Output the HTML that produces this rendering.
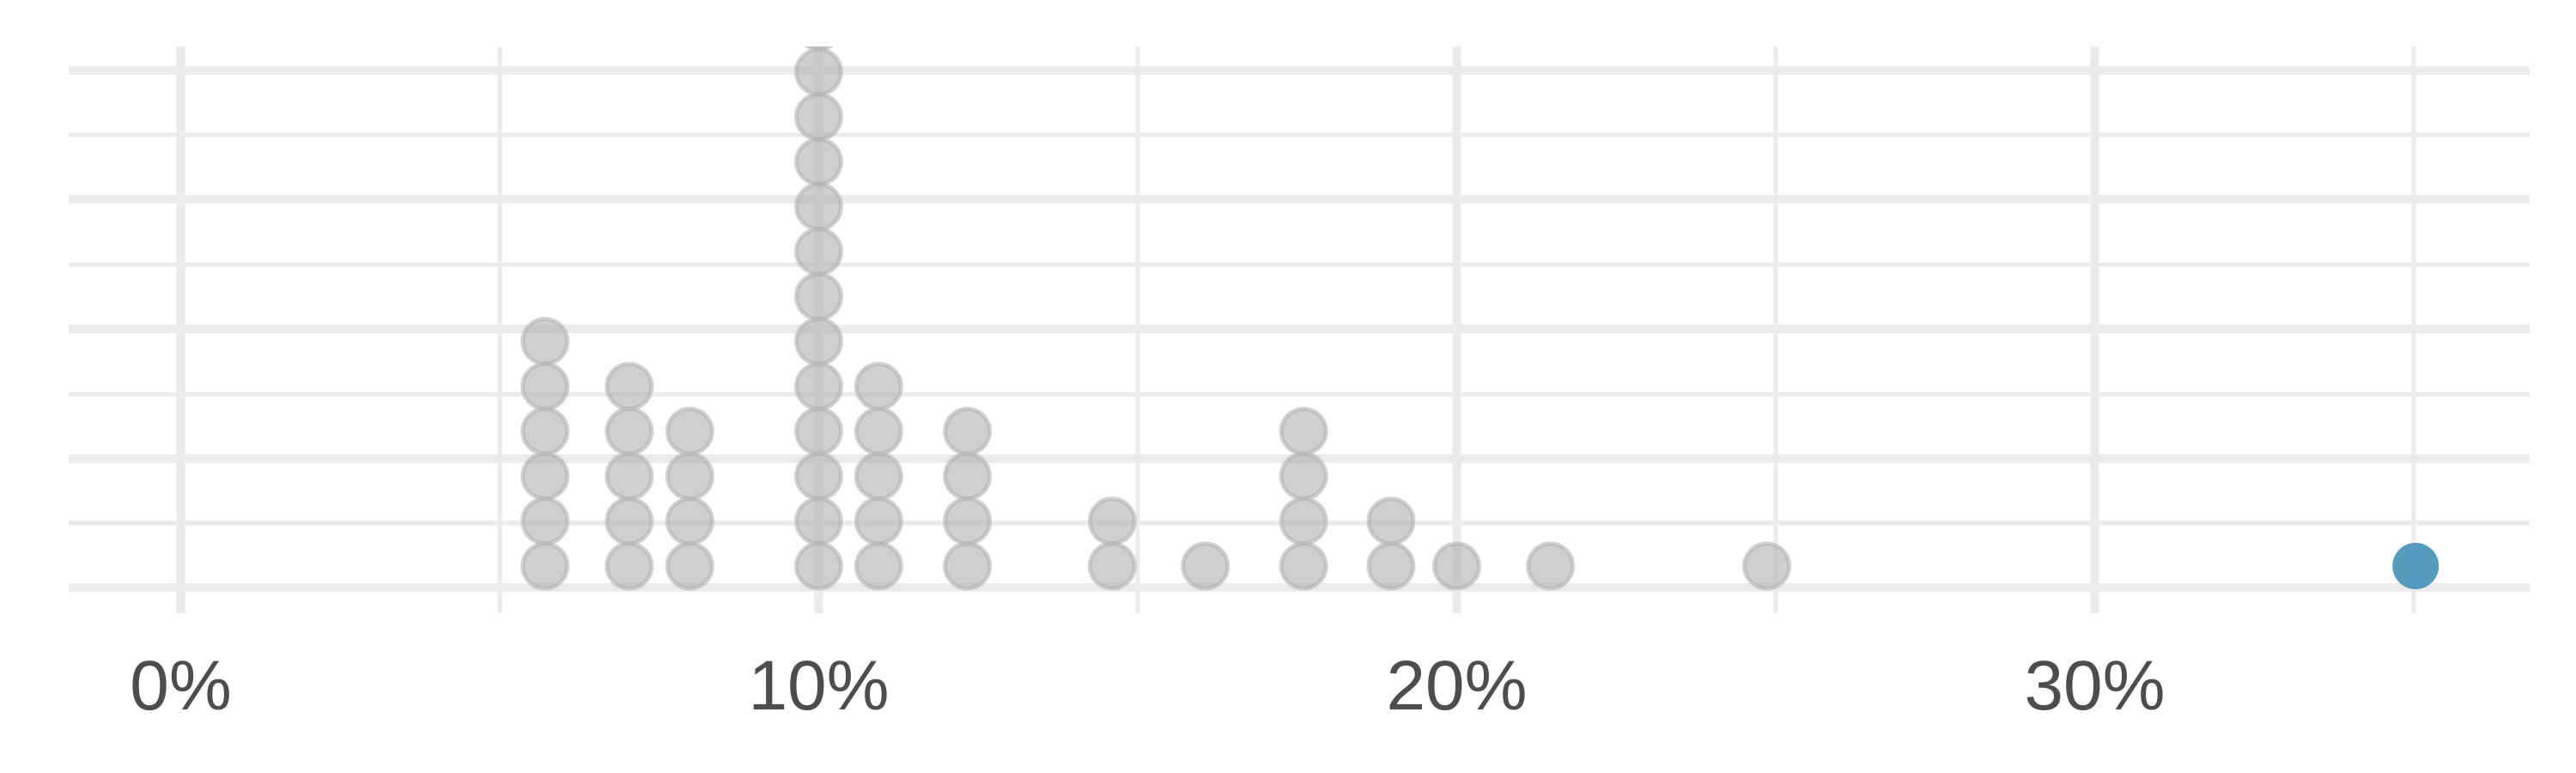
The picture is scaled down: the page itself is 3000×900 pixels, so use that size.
<!DOCTYPE html>
<html><head><meta charset="utf-8"><style>
html,body{margin:0;padding:0;background:#fff;}
svg{display:block;}
</style></head><body>
<svg id="chart" width="3000" height="900" xmlns="http://www.w3.org/2000/svg">
<defs><clipPath id="clip"><rect x="80" y="54" width="2866" height="660"/></clipPath></defs>
<g id="grid"></g>
<g id="dots" clip-path="url(#clip)"></g>
<g id="labels"></g>
</svg>
<script>
const values = [5.71, 7.03, 7.98, 10, 10.94, 12.33, 14.6, 16.06, 17.6, 18.97, 20, 21.47, 24.86, 35.03];
const counts = [6, 5, 4, 13, 5, 4, 2, 1, 4, 2, 1, 1, 1, 1];
const highlight = [false,false,false,false,false,false,false,false,false,false,false,false,false,true];
const tickValues = [0, 10, 20, 30];
const tickLabels = ["0%", "10%", "20%", "30%"];
const minorTicks = [5, 15, 25, 35];

const NS = "http://www.w3.org/2000/svg";
const x = v => 210.5 + v * 74.3;
const rowY = i => 659 - i * 52.3;
const grid = document.getElementById('grid');
const dots = document.getElementById('dots');
const labels = document.getElementById('labels');
function mk(tag, attrs, parent){const e=document.createElementNS(NS,tag);for(const k in attrs)e.setAttribute(k,attrs[k]);parent.appendChild(e);return e;}

const hLines = [82,157,232,308,383,459,534,609,684];
hLines.forEach((y,i)=>{
  const l = mk('line',{x1:80,x2:2946,y1:y,y2:y,stroke:'#ebebeb','stroke-width': i%2===0?10:5},grid);
  
  
});
tickValues.forEach(v=>{
  const l = mk('line',{x1:x(v),x2:x(v),y1:54,y2:714,stroke:'#ebebeb','stroke-width':10},grid);
  
  
});
minorTicks.forEach(v=>{
  const l = mk('line',{x1:x(v),x2:x(v),y1:54,y2:714,stroke:'#ebebeb','stroke-width':5},grid);
  
  
});
values.forEach((v,i)=>{
  for(let k=0;k<counts[i];k++){
    const hl = highlight[i];
    const c = mk('circle',{cx:x(v),cy:rowY(k),r:hl?27:26,
      fill:hl?'#569bbd':'rgb(175,175,175)','fill-opacity':hl?1:0.6,
      stroke:hl?'#569bbd':'rgb(180,180,180)','stroke-opacity':hl?1:0.6,'stroke-width':hl?0:5},dots);
    
    
  }
});
tickValues.forEach((v,i)=>{
  const t = mk('text',{x:x(v),y:826,'text-anchor':'middle','font-family':'Liberation Sans, sans-serif','font-size':82,fill:'#4d4d4d'},labels);
  t.textContent = tickLabels[i];
  
  
});
</script>
</body></html>
